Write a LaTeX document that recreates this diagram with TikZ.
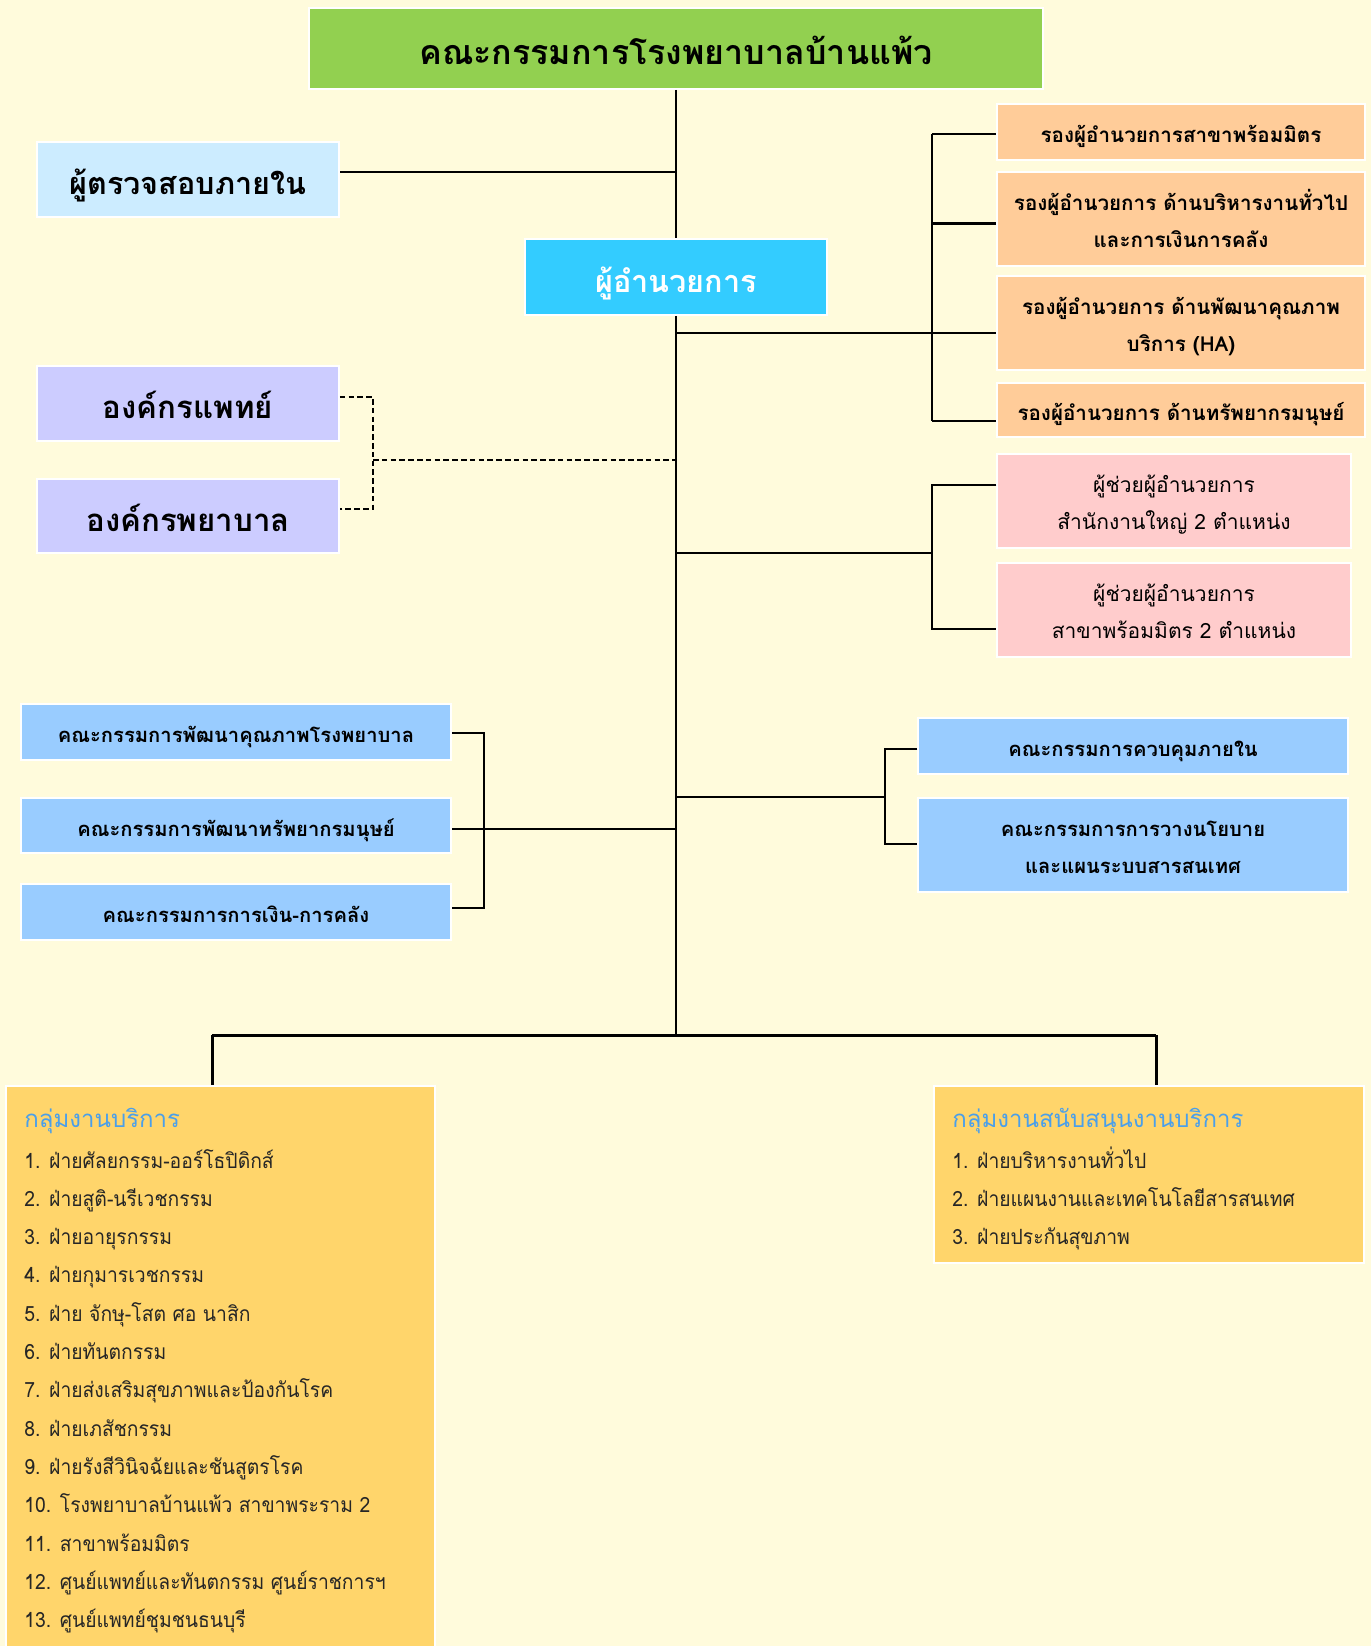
\documentclass[tikz,border=0pt]{standalone}
\usepackage{fontspec}
\setmainfont[Script=Thai]{Loma}
\newfontfamily\listfont[Script=Thai, FakeStretch=0.92]{Loma}
\definecolor{cbg}{HTML}{FFFBDC}
\definecolor{cgreen}{HTML}{92D050}
\definecolor{caudit}{HTML}{CCECFF}
\definecolor{cdir}{HTML}{33CCFF}
\definecolor{corange}{HTML}{FFCC99}
\definecolor{clilac}{HTML}{CCCCFF}
\definecolor{cpink}{HTML}{FFCCCC}
\definecolor{cblue}{HTML}{99CCFF}
\definecolor{cgold}{HTML}{FFD56B}
\definecolor{ctitle}{HTML}{4A9FEA}
\tikzset{
  bx/.style 2 args={draw=white, line width=0.75pt, inner sep=0pt,
    minimum width={#1*0.5pt}, minimum height={#2*0.5pt}, align=center},
  one/.style 2 args={text height=#1, text depth=#2},
  ttltxt/.style={font=\fontsize{17}{31.25}\selectfont\bfseries, one={23.5pt}{7.8pt}},
  bigtxt/.style={font=\fontsize{15.6}{30}\selectfont\bfseries, one={22.6pt}{7.4pt}},
  smtxt/.style={font=\fontsize{10.3}{18.75}\selectfont\bfseries, one={14.7pt}{4pt}},
  twotxt/.style={font=\fontsize{10.3}{18.5}\selectfont\bfseries, one={32.9pt}{4pt}},
  pinktxt/.style={font=\fontsize{10.5}{18.5}\selectfont, one={32.9pt}{4pt}},
  cbtxt/.style={font=\fontsize{10.1}{18.75}\selectfont\bfseries, one={14.7pt}{4pt}},
  ln/.style={line width=1pt, draw=black},
  dln/.style={line width=1pt, draw=black, dash pattern=on 2.8pt off 1.6pt},
  itm/.style={anchor=base west, inner sep=0pt, font=\listfont\fontsize{10.5}{12}\selectfont, text=black!85},
  ttl/.style={anchor=base west, inner sep=0pt, font=\fontsize{12}{14}\selectfont, text=ctitle},
}
\begin{document}
\begin{tikzpicture}[x=0.5pt,y=-0.5pt]
\fill[cbg] (0,0) rectangle (1371,1646);
\useasboundingbox (0,0) rectangle (1371,1646);

% top
\node[bx={734}{81}, fill=cgreen, ttltxt] (board) at (676,48.5) {คณะกรรมการโรงพยาบาลบ้านแพ้ว};
\node[bx={302}{75}, fill=caudit, bigtxt, font=\fontsize{15.3}{30}\selectfont\bfseries] (audit) at (188,179.5) {ผู้ตรวจสอบภายใน};
\node[bx={302}{76}, fill=cdir, bigtxt, text=white, font=\fontsize{15.3}{30}\selectfont\bfseries] (dir) at (676,277) {ผู้อำนวยการ};

% orange
\node[bx={368}{56}, fill=corange, smtxt] (o1) at (1181,132) {รองผู้อำนวยการสาขาพร้อมมิตร};
\node[bx={368}{94}, fill=corange, twotxt] (o2) at (1181,219) {รองผู้อำนวยการ ด้านบริหารงานทั่วไป\\และการเงินการคลัง};
\node[bx={368}{94}, fill=corange, twotxt] (o3) at (1181,323) {รองผู้อำนวยการ ด้านพัฒนาคุณภาพ\\บริการ (HA)};
\node[bx={368}{54}, fill=corange, smtxt] (o4) at (1181,410) {รองผู้อำนวยการ ด้านทรัพยากรมนุษย์};

% lilac
\node[bx={302}{75}, fill=clilac, bigtxt] (l1) at (188,403.5) {องค์กรแพทย์};
\node[bx={302}{74}, fill=clilac, bigtxt] (l2) at (188,516) {องค์กรพยาบาล};

% pink
\node[bx={354}{94}, fill=cpink, pinktxt] (p1) at (1174,501) {ผู้ช่วยผู้อำนวยการ\\สำนักงานใหญ่ 2 ตำแหน่ง};
\node[bx={354}{94}, fill=cpink, pinktxt] (p2) at (1174,610) {ผู้ช่วยผู้อำนวยการ\\สาขาพร้อมมิตร 2 ตำแหน่ง};

% committees left
\node[bx={430}{56}, fill=cblue, cbtxt] (b1) at (236,732) {คณะกรรมการพัฒนาคุณภาพโรงพยาบาล};
\node[bx={430}{55}, fill=cblue, cbtxt] (b2) at (236,825.5) {คณะกรรมการพัฒนาทรัพยากรมนุษย์};
\node[bx={430}{56}, fill=cblue, cbtxt] (b3) at (236,912) {คณะกรรมการการเงิน-การคลัง};

% committees right
\node[bx={430}{56}, fill=cblue, cbtxt] (r1) at (1133,746) {คณะกรรมการควบคุมภายใน};
\node[bx={430}{94}, fill=cblue, twotxt, font=\fontsize{10.1}{18.5}\selectfont\bfseries] (r2) at (1133,845) {คณะกรรมการการวางนโยบาย\\และแผนระบบสารสนเทศ};

% bottom boxes
\node[bx={429}{574}, fill=cgold] (bl) at (220.5,1373) {};
\node[bx={430}{177}, fill=cgold] (br) at (1149,1174.5) {};

\node[ttl] (blt) at (24,1127) {กลุ่มงานบริการ};
\foreach \t [count=\i] in {1. ฝ่ายศัลยกรรม-ออร์โธปิดิกส์, 2. ฝ่ายสูติ-นรีเวชกรรม, 3. ฝ่ายอายุรกรรม, 4. ฝ่ายกุมารเวชกรรม, 5. ฝ่าย จักษุ-โสต ศอ นาสิก, 6. ฝ่ายทันตกรรม, 7. ฝ่ายส่งเสริมสุขภาพและป้องกันโรค, 8. ฝ่ายเภสัชกรรม, 9. ฝ่ายรังสีวินิจฉัยและชันสูตรโรค, 10. โรงพยาบาลบ้านแพ้ว สาขาพระราม 2, 11. สาขาพร้อมมิตร, 12. ศูนย์แพทย์และทันตกรรม ศูนย์ราชการฯ, 13. ศูนย์แพทย์ชุมชนธนบุรี}
  \node[itm] (li\i) at (24,{1168+(\i-1)*38.3}) {\t};

\node[ttl] (brt) at (952,1127) {กลุ่มงานสนับสนุนงานบริการ};
\foreach \t [count=\i] in {1. ฝ่ายบริหารงานทั่วไป, 2. ฝ่ายแผนงานและเทคโนโลยีสารสนเทศ, 3. ฝ่ายประกันสุขภาพ}
  \node[itm] (ri\i) at (952,{1168+(\i-1)*38.3}) {\t};

% connectors
\coordinate (tend) at (676,1035);
\draw[ln] (board.south) -- (dir.north);
\draw[ln] (dir.south) -- (tend);

\coordinate (ja) at (676,172);
\draw[ln] (ja) -- (audit.east |- ja);

% orange bracket
\coordinate (ot1) at (932,134);
\coordinate (ot2) at (932,223);
\coordinate (ot4) at (932,421);
\coordinate (jo) at (676,333);
\draw[ln] (ot1) -- (ot4);
\draw[ln] (ot1) -- (o1.west |- ot1);
\draw[ln, line width=1.5pt] (ot2) -- (o2.west |- ot2);
\draw[ln] (jo) -- (o3.west |- jo);
\draw[ln] (ot4) -- (o4.west |- ot4);

% lilac dashed
\coordinate (dl1) at (373,397);
\coordinate (dl2) at (373,509);
\coordinate (dlm) at (373,460);
\coordinate (jl) at (676,460);
\draw[dln] (l1.east |- dl1) -- (dl1) -- (dl2) -- (l2.east |- dl2);
\draw[dln] (dlm) -- (jl);

% pink bracket
\coordinate (pt1) at (932,485);
\coordinate (pt2) at (932,629);
\coordinate (pm) at (932,553);
\coordinate (jp) at (676,553);
\draw[ln] (p1.west |- pt1) -- (pt1) -- (pt2) -- (p2.west |- pt2);
\draw[ln] (jp) -- (pm);

% left committees bracket
\coordinate (bt1) at (484,733);
\coordinate (bt3) at (484,908);
\coordinate (jb) at (676,829);
\draw[ln] (b1.east |- bt1) -- (bt1) -- (bt3) -- (b3.east |- bt3);
\draw[ln] (jb) -- (b2.east |- jb);

% right committees bracket
\coordinate (rt1) at (885,749);
\coordinate (rt2) at (885,844);
\coordinate (rm) at (885,797);
\coordinate (jr) at (676,797);
\draw[ln] (r1.west |- rt1) -- (rt1) -- (rt2) -- (r2.west |- rt2);
\draw[ln] (jr) -- (rm);

% bottom
\coordinate (bbl) at (212,1035);
\coordinate (bbr) at (1156,1035);
\draw[ln, line width=1.5pt] (bbl) -- (bbr);
\draw[ln, line width=1.5pt] (bbl) -- (bl.north -| bbl);
\draw[ln, line width=1.5pt] (bbr) -- (br.north -| bbr);
\end{tikzpicture}
\end{document}
